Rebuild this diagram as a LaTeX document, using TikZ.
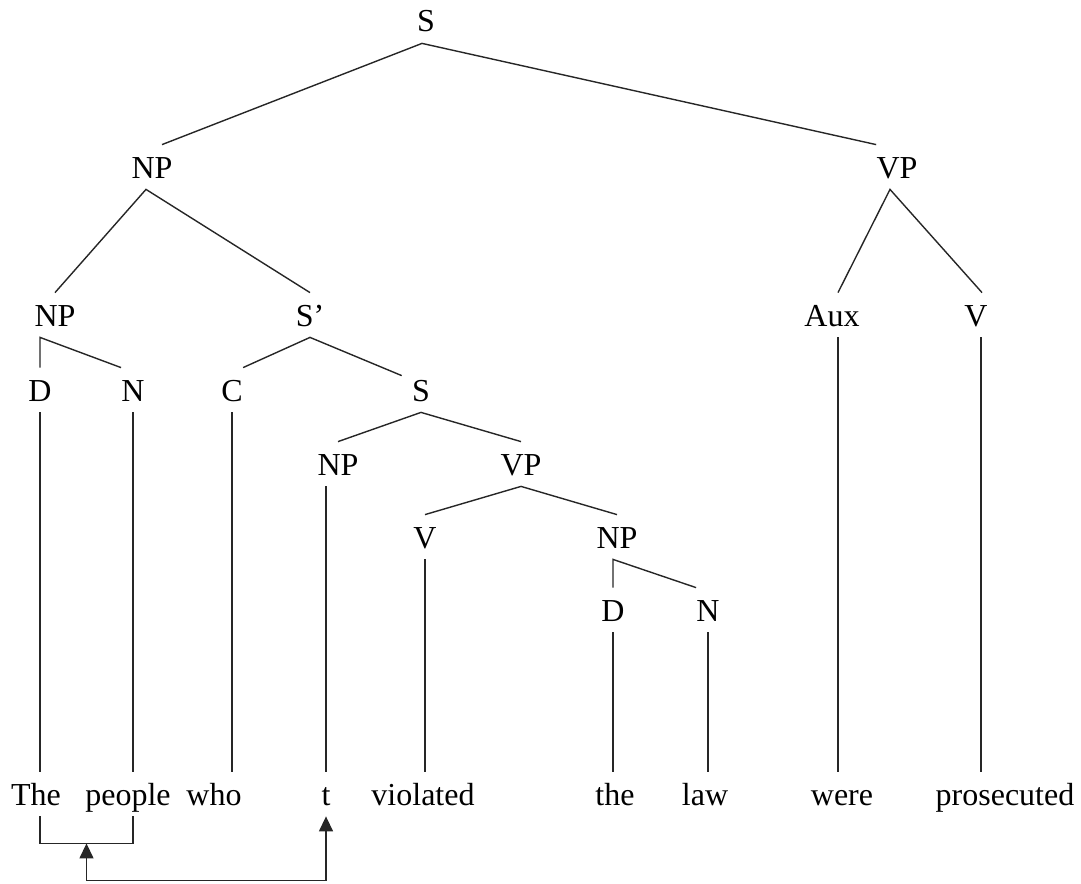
\documentclass[tikz,border=0pt]{standalone}
\usepackage{fontspec}
\setmainfont{Liberation Serif}
\usetikzlibrary{arrows.meta}
\tikzset{px grid/.style={x=.5pt,y=-.5pt},
    tree node/.style={inner xsep=0pt,inner ysep=5.5pt,
        text height=11pt,text depth=0pt,
        font=\fontsize{16}{19}\selectfont},
    branch/.style={line width=.7pt,color=black!85},
    trace tip/.style={{Triangle[width=7pt,length=7.5pt]}-{Triangle[width=7pt,length=7.5pt]}}
}

\begin{document}
\begin{tikzpicture}[px grid,every node/.style={tree node}]
        \useasboundingbox (0,0) rectangle (1081,883);
        \node (s) at (426,21) {S};
        \node (np) at (152,167) {NP};
        \node (vp) at (897,167) {VP};
        \node (np1) at (55,315) {NP};
        \node (sbar) at (310,315) {S’};
        \node (aux) at (832,315) {Aux};
        \node (v) at (976,315) {V};
        \node (d) at (40,390) {D};
        \node (n) at (133,390) {N};
        \node (c) at (232,390) {C};
        \node (s2) at (421,390) {S};
        \node (np2) at (338,464) {NP};
        \node (vp2) at (521,464) {VP};
        \node (v2) at (425,537) {V};
        \node (np3) at (617,537) {NP};
        \node (d2) at (613,610) {D};
        \node (n2) at (708,610) {N};
        \node (the1) at (36,794) {The};
        \node (people) at (128,794) {people};
        \node (who) at (214,794) {who};
        \node (t) at (326,794) {t};
        \node (violated) at (423,794) {violated};
        \node (the2) at (615,794) {the};
        \node (law) at (705,794) {law};
        \node (were) at (842,794) {were};
        \node (prosecuted) at (1005,794) {prosecuted};
        \begin{scope}[branch]
        \draw ([xshift=5pt]np.north) -- ([xshift=-2pt]s.south) -- (vp.north west);
        \draw (np1.north) -- ([xshift=-3pt]np.south) -- (sbar.north);
        \draw ([xshift=3pt]aux.north) -- ([xshift=-3.5pt]vp.south) -- ([xshift=3pt]v.north);
        \draw (d.north) -- (d.north |- np1.south) -- (n.north west);
        \draw (c.north east) -- (sbar.south) -- ([shift={(-5pt,-4pt)}]s2.north west);
        \draw (np2.north) -- (s2.south) -- (vp2.north);
        \draw (v2.north) -- (vp2.south) -- (np3.north);
        \draw (d2.north) -- (d2.north |- np3.south) -- (n2.north west);
        \draw (d.south) -- (d.south |- the1.north);
        \draw (n.south) -- (n.south |- people.north);
        \draw (c.south) -- (c.south |- who.north);
        \draw (t.north) -- (t.north |- np2.south);
        \draw (v2.south) -- (v2.south |- violated.north);
        \draw (d2.south) -- (d2.south |- the2.north);
        \draw (n2.south) -- (n2.south |- law.north);
        \draw ([xshift=3pt]aux.south) -- ([xshift=3pt]aux.south |- were.north);
        \draw ([xshift=2.5pt]v.south) -- ([xshift=2.5pt]v.south |- prosecuted.north);
        \draw (d |- the1.south) -- ++(0,27) -| coordinate[pos=.25] (mid) (n |- people.south);
        \draw[trace tip] (mid) -- ++(0,37) -| (t.south);
        \end{scope}
    \end{tikzpicture}
\end{document}
